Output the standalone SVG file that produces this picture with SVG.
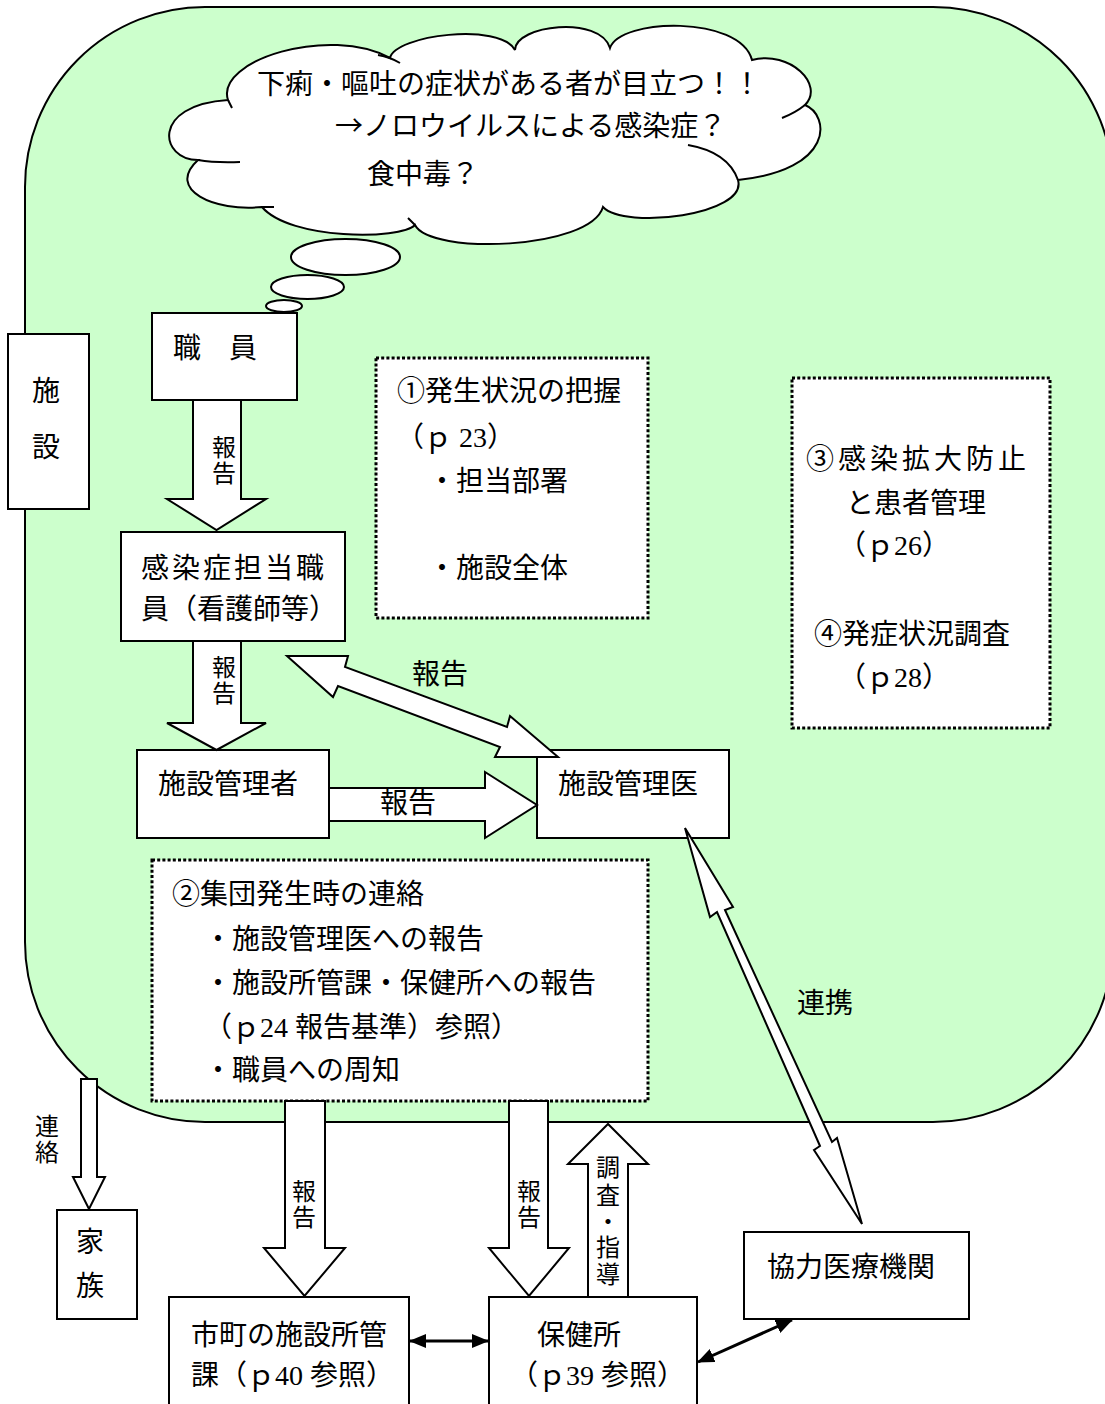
<svg xmlns="http://www.w3.org/2000/svg" width="1105" height="1404" viewBox="0 0 1105 1404">
<defs>
<style>
.bg{fill:#CCFFCC;stroke:#000;stroke-width:2}
.box{fill:#fff;stroke:#000;stroke-width:2}
.dot{fill:#fff;stroke:#000;stroke-width:3;stroke-dasharray:3 2.2}
.cl{fill:#fff;stroke:#000;stroke-width:2}
.tail{fill:none;stroke:#000;stroke-width:2}
.arr{fill:#fff;stroke:#000;stroke-width:2;stroke-linejoin:miter}
.ln{fill:none;stroke:#000;stroke-width:3}
.t{font-family:"Liberation Serif","Noto Sans CJK JP",serif;font-size:28px;fill:#000}
.v{font-size:24px;text-anchor:middle}
.c{text-anchor:middle}
.cjk{font-family:"Noto Sans CJK JP",sans-serif}
</style>
<marker id="ah" markerUnits="userSpaceOnUse" markerWidth="17" markerHeight="14" refX="16" refY="7" orient="auto-start-reverse">
<path d="M0,0 L17,7 L0,14 Z" fill="#000"/>
</marker>
</defs>

<rect class="bg" x="25" y="7" width="1088" height="1115" rx="180" ry="180"/>

<g id="cloud">
<path class="cl" d="M228,100 C215,60 330,25 390,58 C395,35 500,22 515,50 C515,25 600,15 610,48 C620,18 740,15 752,60 C790,50 825,85 805,105 C830,115 835,170 738,180 C748,215 625,230 603,207 C590,250 430,255 415,225 C400,240 290,240 262,207 C215,212 165,190 198,160 C160,160 150,105 228,100 Z"/>
<path class="tail" d="M228,100 Q230,104 232,108 M378,55 Q390,57 400,63 M805,105 Q795,113 782,118 M688,145 Q728,152 738,180 M415,225 L408,218 M262,207 L274,207 M198,160 Q215,163 240,162"/>
<ellipse class="cl" cx="345.5" cy="257" rx="54.5" ry="18"/>
<ellipse class="cl" cx="307.5" cy="287" rx="36.5" ry="12"/>
<ellipse class="cl" cx="284" cy="306" rx="18" ry="6"/>
<text class="t" x="257" y="94">下痢・嘔吐の症状がある者が目立つ！！</text>
<text class="t" x="335" y="136"><tspan class="cjk">→</tspan>ノロウイルスによる感染症？</text>
<text class="t" x="367" y="184">食中毒？</text>
</g>

<g id="shisetsu">
<rect class="box" x="8" y="334" width="81" height="175"/>
<text class="t c" x="46" y="400.6">施</text>
<text class="t c" x="46" y="456.6">設</text>
</g>

<g id="shokuin">
<rect class="box" x="152" y="313" width="145" height="87"/>
<text class="t" x="173" y="357.6">職　員</text>
</g>

<g id="kansen-tanto">
<rect class="box" x="121" y="532" width="224" height="109"/>
<text class="t" x="141" y="577.6" letter-spacing="3">感染症担当職</text>
<text class="t" x="141" y="618.6">員（看護師等）</text>
</g>

<g id="kanrisha">
<rect class="box" x="137" y="750" width="192" height="88"/>
<text class="t" x="158" y="793.6">施設管理者</text>
</g>

<g id="kanri-i">
<rect class="box" x="537" y="750" width="192" height="88"/>
<text class="t" x="558" y="793.6">施設管理医</text>
</g>

<g id="note1">
<rect class="dot" x="376" y="358" width="272" height="260"/>
<text class="t" x="397" y="400.6">①発生状況の把握</text>
<text class="t" x="396" y="447">（ｐ 23）</text>
<text class="t" x="428" y="490.6">・担当部署</text>
<text class="t" x="428" y="577.6">・施設全体</text>
</g>

<g id="note3">
<rect class="dot" x="792" y="378" width="258" height="350"/>
<text class="t" x="806" y="468.6" letter-spacing="4">③感染拡大防止</text>
<text class="t" x="846" y="512.6">と患者管理</text>
<text class="t" x="838" y="555">（ｐ26）</text>
<text class="t" x="814" y="643.6">④発症状況調査</text>
<text class="t" x="838" y="687">（ｐ28）</text>
</g>

<g id="note2">
<rect class="dot" x="152" y="860" width="496" height="241"/>
<text class="t" x="172" y="903.6">②集団発生時の連絡</text>
<text class="t" x="204" y="948.6">・施設管理医への報告</text>
<text class="t" x="204" y="992.6">・施設所管課・保健所への報告</text>
<text class="t" x="204" y="1036.6">（ｐ24 報告基準）参照）</text>
<text class="t" x="204" y="1079.6">・職員への周知</text>
</g>

<g id="kazoku">
<rect class="box" x="57" y="1210" width="80" height="109"/>
<text class="t c" x="90" y="1251.6" font-size="27">家</text>
<text class="t c" x="90" y="1295.6" font-size="27">族</text>
</g>

<g id="shicho">
<rect class="box" x="169" y="1297" width="240" height="115"/>
<text class="t" x="191" y="1344.6">市町の施設所管</text>
<text class="t" x="191" y="1384.6">課（ｐ40 参照）</text>
</g>

<g id="hokenjo">
<rect class="box" x="489" y="1297" width="208" height="115"/>
<text class="t" x="537" y="1344.6">保健所</text>
<text class="t" x="510" y="1384.6">（ｐ39 参照）</text>
</g>

<g id="kyoryoku">
<rect class="box" x="744" y="1232" width="225" height="87"/>
<text class="t" x="767" y="1276.6">協力医療機関</text>
</g>

<g id="connectors">
<polygon class="arr" points="193,400 241,400 241,499 266,499 216.5,530 167,499 193,499"/>
<text class="t v" x="224" y="456.1">報</text>
<text class="t v" x="224" y="482.1">告</text>

<polygon class="arr" points="193,641 241,641 241,723 266,723 216.5,750 167,723 193,723"/>
<text class="t v" x="224" y="676.1">報</text>
<text class="t v" x="224" y="702.1">告</text>

<polygon class="arr" points="329,788 485,788 485,772 537,805 485,838 485,821 329,821"/>
<text class="t c" x="408" y="813.2" font-size="26">報告</text>

<polygon class="arr" points="287,656 348,656 345,667 507,727 510,716 558,757 495,757 500,747 338,686 333,697"/>
<text class="t c" x="440" y="683.5" font-size="27">報告</text>

<polygon class="arr" points="685,828 733,907 725,910 832,1142 837,1138 862,1224 814,1150 820,1146 717,912 710,917"/>
<text class="t" x="797" y="1012.6">連携</text>

<polygon class="arr" points="81,1079 97,1079 97,1177 105,1177 89,1209 73,1177 81,1177"/>
<text class="t v" x="47" y="1135.1">連</text>
<text class="t v" x="47" y="1161.1">絡</text>

<polygon class="arr" points="285,1101 325,1101 325,1248 345,1248 304.5,1296 264,1248 285,1248"/>
<text class="t v" x="304" y="1200.1">報</text>
<text class="t v" x="304" y="1226.1">告</text>

<polygon class="arr" points="509,1101 548,1101 548,1248 569,1248 529,1296 489,1248 509,1248"/>
<text class="t v" x="529" y="1200.1">報</text>
<text class="t v" x="529" y="1226.1">告</text>

<polygon class="arr" points="588,1297 628,1297 628,1164 648,1164 608,1124 568,1164 588,1164"/>
<text class="t v" x="608" y="1176.1">調</text>
<text class="t v" x="608" y="1204.1">査</text>
<text class="t v" x="608" y="1230.1">・</text>
<text class="t v" x="608" y="1256.1">指</text>
<text class="t v" x="608" y="1283.1">導</text>

<line class="ln" x1="410" y1="1341" x2="488" y2="1341" marker-start="url(#ah)" marker-end="url(#ah)"/>
<line class="ln" x1="698" y1="1362" x2="792" y2="1320" marker-start="url(#ah)" marker-end="url(#ah)"/>
</g>
</svg>
